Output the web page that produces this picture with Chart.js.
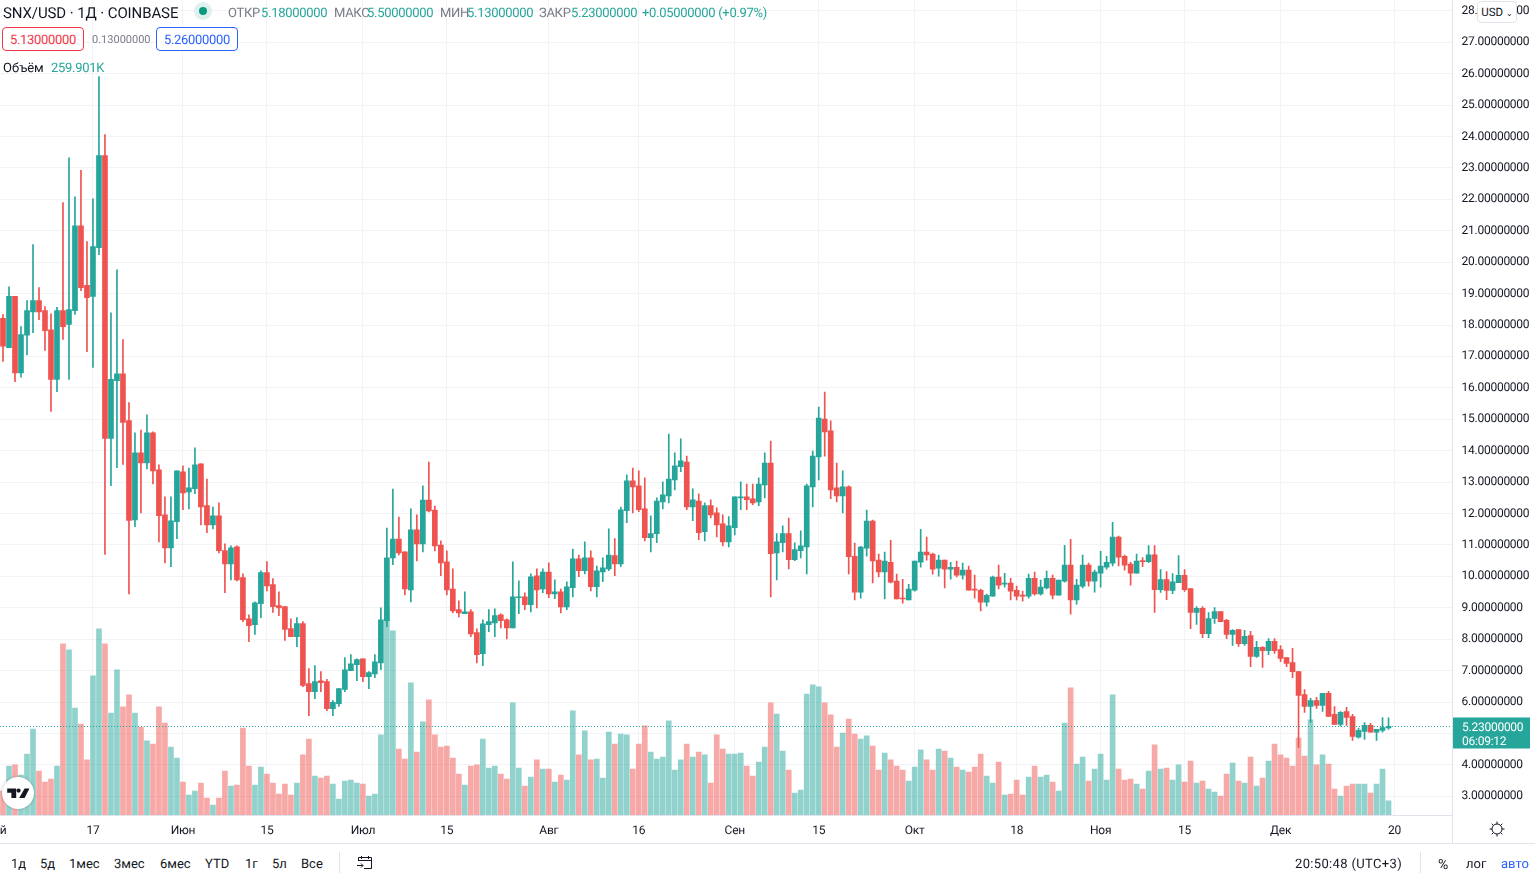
<!DOCTYPE html>
<html>
<head>
<meta charset="utf-8">
<title>SNX/USD</title>
<script src="https://cdn.jsdelivr.net/npm/chart.js@4/dist/chart.umd.min.js"></script>
<style>
  html, body { margin: 0; padding: 0; background: #fff; overflow: hidden; }
  body { width: 1535px; height: 876px; position: relative; font-family: Roboto, sans-serif; color: #131722; text-rendering: geometricPrecision; }
  canvas { position: absolute; left: 0; top: 0; }
  .t { position: absolute; white-space: nowrap; line-height: 16px; font-size: 13px; }
  .head { letter-spacing: -0.3px; }
  .gray { color: #787b86; }
  .teal { color: #26a69a; }
  .box { position: absolute; top: 27px; height: 22px; width: 80px; border: 1px solid; border-radius: 4px;
         text-align: center; line-height: 26px; font-size: 13px; background: #fff; letter-spacing: -0.3px; }
  .rule { position: absolute; background: #e0e3eb; }
</style>
</head>
<body>
<canvas id="chart" width="1535" height="843"></canvas>

<div class="t" style="left:3px;top:5px;font-size:15px;letter-spacing:-0.1px">SNX/USD · 1Д · COINBASE</div>
<svg style="position:absolute;left:193px;top:1px" width="20" height="20">
  <circle cx="10" cy="10" r="9" fill="#e0f0ee"/><circle cx="10" cy="10" r="4" fill="#089981"/>
</svg>
<div class="t gray head" style="left:228px;top:6px">ОТКР</div><div class="t teal head" style="left:261px;top:6px">5.18000000</div>
<div class="t gray head" style="left:334px;top:6px">МАКС</div><div class="t teal head" style="left:367px;top:6px">5.50000000</div>
<div class="t gray head" style="left:440px;top:6px">МИН</div><div class="t teal head" style="left:467px;top:6px">5.13000000</div>
<div class="t gray head" style="left:539px;top:6px">ЗАКР</div><div class="t teal head" style="left:571px;top:6px">5.23000000</div>
<div class="t teal head" style="left:642px;top:6px">+0.05000000 (+0.97%)</div>

<div class="box" style="left:2px;border-color:#f23645;color:#f23645">5.13000000</div>
<div class="t gray" style="left:92px;top:32px;font-size:11px">0.13000000</div>
<div class="box" style="left:156px;border-color:#2962ff;color:#2962ff">5.26000000</div>

<div class="t" style="left:3px;top:61px">Объём</div>
<div class="t teal head" style="left:51px;top:61px">259.901K</div>

<div style="position:absolute;left:2px;top:777px;width:32px;height:32px;border-radius:50%;background:#fff;box-shadow:0 0 3px rgba(19,23,34,.3)">
  <svg style="position:absolute;left:4px;top:10px" width="24" height="12" viewBox="0 4 40 19">
    <path fill="#131722" d="M2 6h15v16H9V13H2zM31 6h8l-8 16h-9zM21 13a3.5 3.5 0 100-7 3.5 3.5 0 000 7z"/>
  </svg>
</div>

<div style="position:absolute;left:1477px;top:1px;width:38px;height:20px;border:1px solid #e0e3eb;border-radius:4px;background:#fff;font-size:11.5px;line-height:20px;text-align:center">USD <span style="font-size:8px">⌄</span></div>

<div class="rule" style="left:1452px;top:0;width:1px;height:843px"></div>
<div class="rule" style="left:0;top:843px;width:1535px;height:1px"></div>

<svg style="position:absolute;left:1489px;top:821px" width="16" height="16" viewBox="0 0 16 16" fill="none" stroke="#131722">
  <circle cx="8" cy="8" r="5"/>
  <path d="M8 0.5V3M8 13v2.5M0.5 8H3M13 8h2.5M2.7 2.7l1.8 1.8M11.5 11.5l1.8 1.8M13.3 2.7l-1.8 1.8M4.5 11.5l-1.8 1.8"/>
</svg>

<div class="t" style="left:11px;top:857px">1д</div>
<div class="t" style="left:40px;top:857px">5д</div>
<div class="t" style="left:69px;top:857px">1мес</div>
<div class="t" style="left:114px;top:857px">3мес</div>
<div class="t" style="left:160px;top:857px">6мес</div>
<div class="t" style="left:205px;top:857px">YTD</div>
<div class="t" style="left:245px;top:857px">1г</div>
<div class="t" style="left:272px;top:857px">5л</div>
<div class="t" style="left:301px;top:857px">Все</div>
<div class="rule" style="left:339px;top:852px;width:1px;height:21px"></div>
<svg style="position:absolute;left:356px;top:855px" width="18" height="16" viewBox="0 0 18 16" fill="none" stroke="#131722">
  <path d="M2.5 6V2.5h13v11H8M2.5 5.5h13M5.5 1v3M12.5 1v3M1 10.5h6M5 8.5l2 2-2 2"/>
</svg>
<div class="t" style="left:1295px;top:857px;letter-spacing:0.35px">20:50:48 (UTC+3)</div>
<div class="rule" style="left:1420px;top:852px;width:1px;height:21px"></div>
<div class="t" style="left:1438px;top:857px;font-size:14px">%</div>
<div class="t" style="left:1466px;top:857px">лог</div>
<div class="t" style="left:1501px;top:857px;color:#2962ff">авто</div>

<script>
// daily candles, oldest first
const opens = [
  18.21,17.28,18.91,16.48,17.68,18.42,18.78,18.46,17.85,16.27,
  18.46,18.02,18.46,21.16,19.26,18.91,20.46,23.39,14.39,16.23,
  16.45,14.96,11.80,13.93,13.61,14.57,13.39,11.96,10.91,11.74,
  13.33,12.69,12.79,13.58,12.25,11.64,11.93,10.82,10.40,10.94,
  9.96,8.65,8.46,9.13,10.12,9.74,9.07,9.04,8.34,8.08,
  8.50,6.59,6.33,6.68,6.65,5.79,5.95,6.40,7.00,7.19,
  7.38,6.81,6.90,7.25,8.59,10.59,11.19,10.78,9.57,11.48,
  11.03,12.43,12.11,11.00,10.46,9.60,8.94,8.81,8.87,8.21,
  7.54,8.46,8.52,8.78,8.62,8.36,9.32,9.35,9.10,10.02,
  9.60,10.14,9.44,9.51,9.03,9.64,10.56,10.18,10.59,9.67,
  10.14,10.24,10.66,10.40,12.09,13.04,12.88,12.15,11.23,11.36,
  12.37,12.56,13.07,13.49,13.64,12.21,12.40,11.42,12.25,12.02,
  11.67,11.10,11.55,12.50,12.53,12.47,12.37,12.91,13.61,10.75,
  11.07,11.36,10.53,10.82,10.94,12.85,13.80,15.01,14.63,12.82,
  12.56,12.85,10.64,9.50,10.90,11.76,10.52,10.14,10.45,9.85,
  9.31,9.25,9.56,10.45,10.77,10.71,10.26,10.52,10.23,10.29,
  10.04,10.20,9.60,9.56,9.18,9.37,9.98,9.75,9.79,9.56,
  9.40,9.37,9.94,9.44,9.63,9.94,9.40,9.85,10.36,9.25,
  9.69,10.36,9.85,10.10,10.29,10.42,11.25,10.64,10.39,10.10,
  10.50,10.47,10.69,9.58,9.90,9.55,9.80,10.03,9.61,8.85,
  8.98,8.18,8.66,8.88,8.60,8.15,8.31,7.86,8.12,7.45,
  7.74,7.64,7.93,7.67,7.42,7.26,6.97,6.24,5.86,6.05,
  5.89,6.28,5.61,5.29,5.70,5.54,4.88,5.07,5.26,5.04,5.10,5.18
];
const highs = [
  18.33,19.22,18.91,17.95,18.78,20.56,19.19,18.59,18.36,18.56,
  21.90,23.32,22.08,22.92,20.66,22.02,25.91,24.06,18.39,19.76,
  17.54,15.53,14.57,14.66,15.14,14.60,13.55,12.53,12.53,13.36,
  13.52,13.45,14.09,13.58,13.10,12.21,12.34,11.04,10.97,10.97,
  10.08,8.78,9.19,10.18,10.47,9.93,9.51,9.04,8.65,8.69,
  8.56,7.07,7.16,6.97,6.72,6.05,6.43,7.42,7.51,7.38,
  7.38,6.97,7.51,9.00,11.54,12.78,11.89,10.78,12.15,11.96,
  12.88,13.64,12.24,11.13,10.81,10.24,9.22,9.51,8.94,8.33,
  8.62,8.94,8.97,8.81,8.65,10.46,9.86,9.48,10.08,10.24,
  10.24,10.43,9.89,9.60,9.83,10.87,10.68,11.10,10.81,10.33,
  10.59,11.51,11.20,12.21,13.23,13.45,13.36,13.14,11.93,12.50,
  13.01,14.53,13.93,14.38,13.83,12.79,12.63,12.34,12.44,12.18,
  11.96,11.90,12.53,13.01,12.94,12.94,13.14,13.93,14.31,11.36,
  11.61,11.86,11.07,11.45,12.94,13.99,15.39,15.87,14.95,13.61,
  13.36,12.88,11.06,10.96,12.11,11.79,10.71,10.77,11.15,10.07,
  9.91,9.75,10.49,11.50,11.25,10.74,10.68,10.52,10.45,10.49,
  10.42,10.33,10.04,9.60,9.44,10.01,10.36,10.10,9.94,9.69,
  9.53,10.07,10.14,9.88,10.17,10.04,9.88,10.99,11.18,9.91,
  10.68,10.42,10.20,10.80,10.64,11.72,11.28,10.68,10.45,10.71,
  10.60,10.98,10.98,10.22,10.15,10.09,10.66,10.22,9.61,9.04,
  9.04,8.85,9.01,8.88,8.63,8.31,8.31,8.28,8.25,7.93,
  7.77,8.02,8.02,7.80,7.42,7.71,6.97,6.40,6.12,6.15,
  6.28,6.34,5.86,5.70,5.83,5.61,5.17,5.35,5.32,5.13,5.51,5.50
];
const lows = [
  16.84,17.28,16.20,16.34,17.05,17.76,18.17,17.19,15.25,15.88,
  17.54,16.27,18.34,19.09,17.15,16.65,20.24,10.70,12.89,13.46,
  13.56,9.44,11.58,12.02,13.42,12.94,11.10,10.43,10.31,11.20,
  12.12,12.15,12.63,11.64,11.39,11.51,10.75,9.48,9.89,9.86,
  8.56,7.92,8.15,8.69,9.54,8.85,8.75,7.96,8.08,7.76,
  6.49,5.57,6.11,6.33,5.73,5.57,5.86,6.33,7.00,6.68,
  6.65,6.43,6.78,7.03,8.40,10.37,10.68,9.41,9.19,10.49,
  10.78,12.05,10.81,10.02,9.41,8.84,8.71,8.81,8.08,7.25,
  7.16,8.24,8.08,8.36,8.01,8.36,8.81,8.94,8.87,9.00,
  9.48,9.32,9.29,8.84,8.94,9.35,9.99,10.08,9.54,9.35,
  9.83,10.18,10.02,10.31,11.71,12.02,12.06,11.13,10.78,11.07,
  12.15,12.34,12.75,13.33,12.12,11.77,11.17,11.13,11.86,11.26,
  10.97,10.94,11.32,12.12,12.12,12.28,12.25,12.50,9.35,9.89,
  10.78,10.24,10.50,10.59,10.08,12.21,13.07,13.83,12.47,12.37,
  12.02,10.08,9.25,9.31,10.64,9.79,9.98,9.28,9.79,9.28,
  9.15,9.25,9.53,10.29,10.52,10.07,10.01,9.63,9.91,9.98,
  9.91,9.56,9.31,8.90,9.05,9.37,9.60,9.66,9.25,9.25,
  9.21,9.31,9.40,9.40,9.60,9.28,9.40,9.82,8.80,9.12,
  9.63,9.69,9.50,9.66,10.23,10.33,10.33,10.20,9.72,10.10,
  10.31,10.44,8.85,9.49,9.26,9.45,9.80,9.52,8.34,8.47,
  8.05,8.05,8.50,8.56,8.02,7.80,7.77,7.80,7.13,7.42,
  7.10,7.51,7.55,7.29,7.13,6.78,4.56,5.67,5.35,5.80,
  5.70,5.54,5.29,5.23,5.26,4.78,4.85,4.81,5.04,4.78,5.04,5.13
];
const closes = [
  17.33,18.91,16.48,17.70,18.46,18.78,18.42,17.82,16.27,18.46,
  17.95,18.49,21.16,19.19,18.87,20.50,23.39,14.39,16.27,16.45,
  14.90,11.78,13.93,13.61,14.57,13.36,11.93,10.91,11.77,13.36,
  12.66,12.82,13.55,12.21,11.64,11.93,10.82,10.40,10.91,9.89,
  8.62,8.43,9.16,10.12,9.70,9.04,9.00,8.31,8.08,8.50,
  6.53,6.33,6.65,6.62,5.79,5.99,6.43,7.03,7.22,7.35,
  6.81,6.94,7.28,8.62,10.59,11.19,10.75,9.60,11.48,11.03,
  12.43,12.08,10.97,10.43,9.57,8.90,8.84,8.87,8.17,7.51,
  8.49,8.56,8.75,8.59,8.36,9.35,9.35,9.10,9.99,9.57,
  10.14,9.44,9.51,9.03,9.67,10.56,10.18,10.59,9.67,10.18,
  10.27,10.68,10.40,12.12,13.04,12.85,12.12,11.23,11.36,12.40,
  12.60,13.10,13.52,13.68,12.21,12.44,11.39,12.25,11.96,11.64,
  11.10,11.61,12.53,12.53,12.44,12.34,12.94,13.61,10.72,11.10,
  11.36,10.53,10.85,10.97,12.88,13.83,15.04,14.60,12.75,12.56,
  12.85,10.63,9.50,10.93,11.76,10.49,10.14,10.49,9.82,9.28,
  9.28,9.60,10.49,10.77,10.68,10.23,10.52,10.23,10.29,10.04,
  10.20,9.56,9.56,9.18,9.40,9.98,9.72,9.79,9.53,9.37,
  9.37,9.94,9.44,9.66,9.94,9.40,9.88,10.36,9.25,9.72,
  10.36,9.85,10.14,10.33,10.45,11.25,10.61,10.36,10.10,10.49,
  10.47,10.69,9.58,9.90,9.55,9.83,10.03,9.58,8.85,8.98,
  8.18,8.66,8.88,8.56,8.15,8.28,7.86,8.09,7.45,7.74,
  7.64,7.93,7.64,7.39,7.23,6.97,6.21,5.86,6.05,5.89,
  6.28,5.54,5.29,5.67,5.51,4.91,5.10,5.26,5.04,5.13,5.19,5.23
];
// traded volume, thousands
const volumes = [
  437,892,911,728,1111,1566,801,601,656,892,
  3114,3005,1948,1657,1002,2531,3387,3114,1857,2640,
  1967,2185,1857,1602,1348,1293,1967,1675,1238,1038,
  601,364,437,583,310,182,310,801,528,546,
  1584,892,546,874,747,583,382,565,364,583,
  1093,1384,710,674,710,565,291,619,637,583,
  565,346,382,1457,3733,3351,1202,1020,2404,1147,
  1694,2094,1457,1238,1256,1038,747,546,892,911,
  1384,856,892,747,656,2040,856,528,692,1002,
  838,838,601,728,637,1894,1093,1530,1002,1020,
  674,1511,1293,1475,1457,838,1293,1621,1147,1020,
  1056,1712,819,1002,1293,1056,1147,1093,583,1457,
  1202,1111,1111,1129,892,710,965,1238,2040,1839,
  1165,819,401,455,2203,2367,2331,2040,1821,1238,
  1493,1748,1475,1384,1439,1256,819,1129,1002,892,
  819,619,874,1184,1002,819,1202,1165,1038,874,
  819,783,874,1111,710,583,965,364,382,637,
  364,692,892,692,728,601,437,1675,2313,929,
  1056,619,838,1111,637,2185,838,637,656,565,
  473,801,1275,838,856,637,911,601,983,583,
  619,473,419,346,747,947,619,583,1056,528,
  674,983,1293,1093,1038,892,1402,1074,1730,911,
  1093,929,473,346,528,565,565,565,401,565,838,259.9
];
// time scale: bar number of each labelled day, and what it shows
const tickBars = [0, 15, 30, 44, 60, 74, 91, 106, 122, 136, 152, 169, 183, 197, 213, 232];
const tickLabels = ['й', '17', 'Июн', '15', 'Июл', '15', 'Авг', '16', 'Сен', '15', 'Окт', '18', 'Ноя', '15', 'Дек', '20'];
const barSlots = 242;

const upColor = '#26a69a';
const downColor = '#ef5350';
const isUp = closes.map((c, i) => c >= opens[i]);
const gridColor = '#f2f3f6';
const axisFont = { family: 'Roboto, sans-serif', size: 12 };

// dotted last price line and the countdown tag on the price scale
const lastPrice = {
  id: 'lastPrice',
  beforeDraw(chart) {
    chart.ctx.textRendering = 'geometricPrecision';
    chart.ctx.letterSpacing = '-0.25px';
  },
  afterDraw(chart) {
    const { ctx, chartArea } = chart;
    const last = closes[closes.length - 1];
    const y = Math.round(chart.scales.y.getPixelForValue(last)) + 0.5;
    ctx.save();
    ctx.strokeStyle = upColor;
    ctx.lineWidth = 1;
    ctx.setLineDash([1, 2]);
    ctx.beginPath();
    ctx.moveTo(0, y);
    ctx.lineTo(chartArea.right, y);
    ctx.stroke();
    ctx.setLineDash([]);
    ctx.fillStyle = upColor;
    ctx.fillRect(1452, y - 9, 78, 31);
    ctx.fillStyle = '#fff';
    ctx.font = '12px Roboto, sans-serif';
    ctx.textBaseline = 'middle';
    ctx.fillText(last.toFixed(8), 1462, y + 1);
    ctx.fillText('06:09:12', 1462, y + 15);
    ctx.restore();
  }
};

new Chart(document.getElementById('chart').getContext('2d'), {
  type: 'bar',
  data: {
    labels: Array.from({ length: barSlots }, (_, i) => i),
    datasets: [
      {
        label: 'Объём',
        yAxisID: 'yVolume',
        data: volumes,
        backgroundColor: isUp.map(u => u ? 'rgba(38,166,154,0.5)' : 'rgba(239,83,80,0.5)'),
        barThickness: 5,
        order: 3
      },
      {
        label: 'wick',
        yAxisID: 'y',
        data: lows.map((l, i) => [l, highs[i]]),
        backgroundColor: isUp.map(u => u ? upColor : downColor),
        barThickness: 1,
        order: 2
      },
      {
        label: 'body',
        yAxisID: 'y',
        data: opens.map((o, i) => [Math.min(o, closes[i]), Math.max(o, closes[i])]),
        backgroundColor: isUp.map(u => u ? upColor : downColor),
        barThickness: 5,
        minBarLength: 1,
        order: 1
      }
    ]
  },
  options: {
    responsive: false,
    animation: false,
    events: [],
    layout: { padding: { left: -0.5, right: 0.5, top: 0, bottom: 0 } },
    datasets: { bar: { grouped: false } },
    plugins: { legend: { display: false }, tooltip: { enabled: false } },
    scales: {
      x: {
        type: 'category',
        afterBuildTicks(axis) {
          axis.ticks = tickBars.map(b => ({ value: b }));
        },
        afterFit(axis) {
          // no room reserved for labels hanging past the plot edges
          axis.height = 28;
          axis.paddingLeft = 0;
          axis.paddingRight = 0;
        },
        grid: {
          offset: false,
          drawTicks: false,
          color: c => c.index === 0 ? 'transparent' : gridColor
        },
        border: { color: '#e0e3eb' },
        ticks: {
          autoSkip: false,
          maxRotation: 0,
          padding: 9,
          color: '#131722',
          font: axisFont,
          callback: (v, i) => tickLabels[i]
        }
      },
      y: {
        position: 'right',
        min: 2.406,
        max: 28.345,
        afterFit(axis) {
          axis.width = 83;
          axis.paddingTop = 0;
          axis.paddingBottom = 0;
        },
        grid: { drawTicks: false, color: gridColor },
        border: { display: false },
        ticks: {
          stepSize: 1,
          includeBounds: false,
          padding: 10,
          color: '#131722',
          font: axisFont,
          callback: v => v.toFixed(8)
        }
      },
      yVolume: {
        display: false,
        min: 0,
        max: 14833
      }
    }
  },
  plugins: [lastPrice]
});
</script>
</body>
</html>
